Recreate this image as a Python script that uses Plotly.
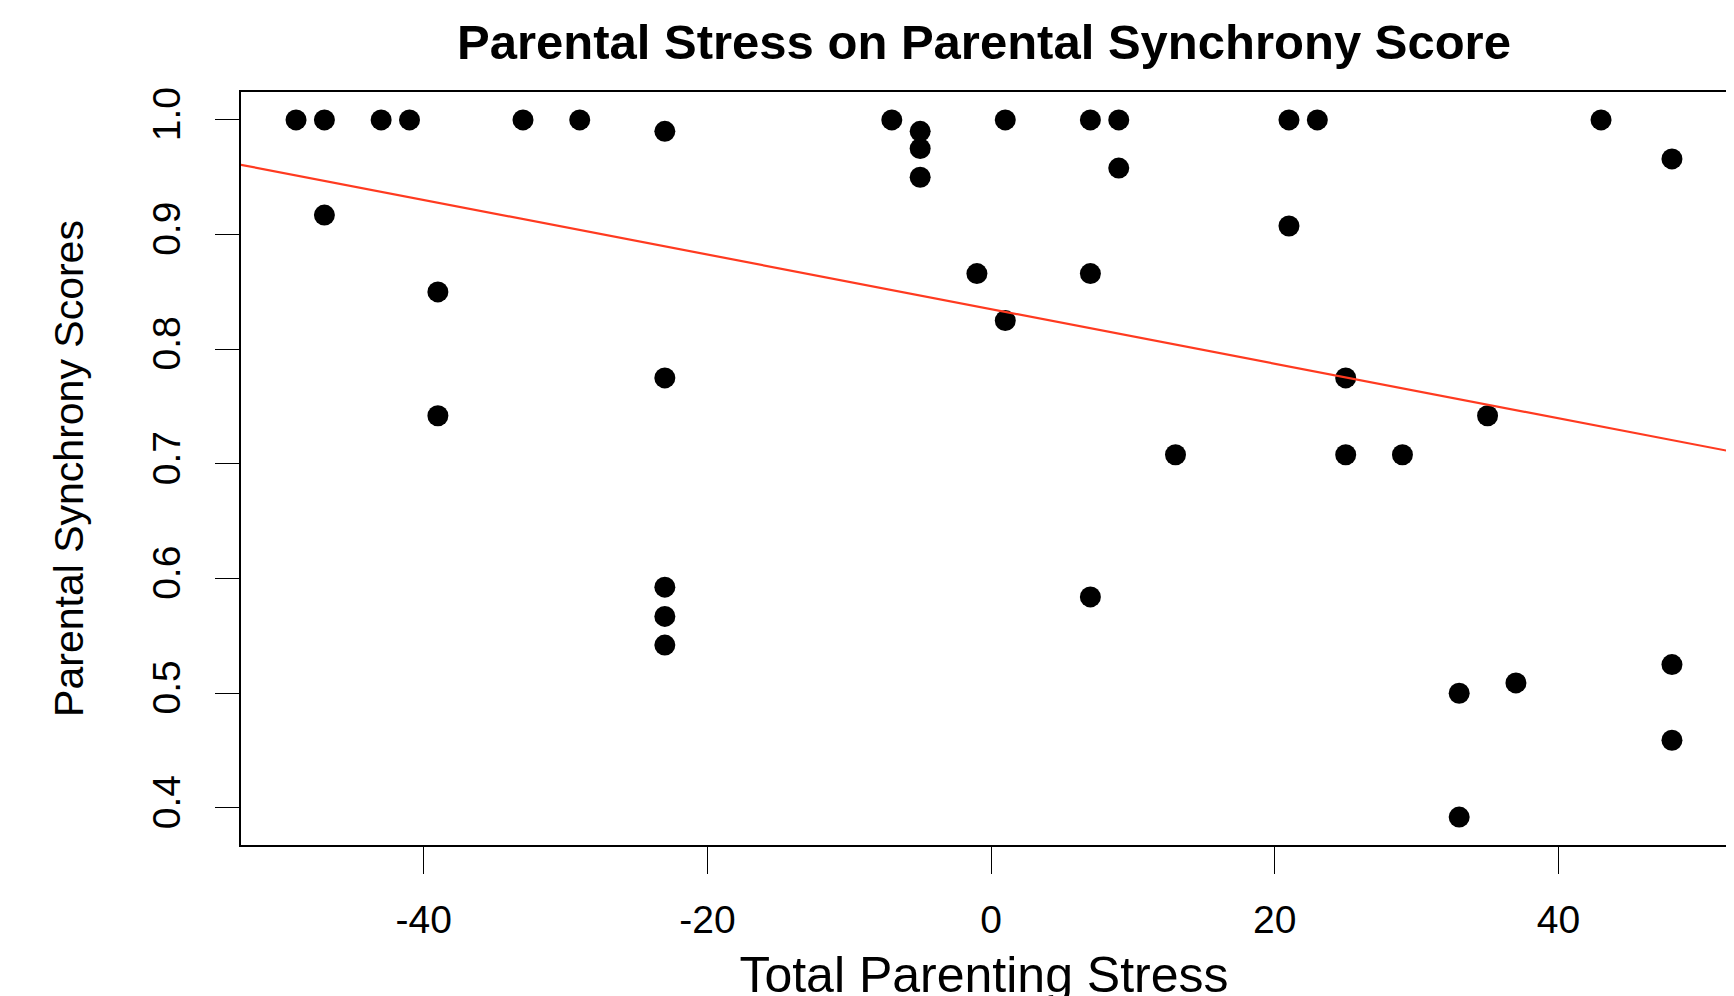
import numpy as np
import plotly.graph_objects as go

# Total Parenting Stress (x) and Parental Synchrony Scores (y)
stress = [-49, -47, -43, -41, -33, -29, -7, 1, 7, 9, 21, 23, 43,
          -47, -23, -39, -39, -23, -23, -23, -23,
          -5, -5, -5, -1, 1, 7, 7, 9,
          13, 21, 25, 25, 29, 35, 33, 33, 37, 48, 48, 48]
synchrony = [1.0, 1.0, 1.0, 1.0, 1.0, 1.0, 1.0, 1.0, 1.0, 1.0, 1.0, 1.0, 1.0,
             0.917, 0.990, 0.850, 0.742, 0.775, 0.5925, 0.567, 0.542,
             0.990, 0.975, 0.950, 0.866, 0.825, 0.866, 0.584, 0.958,
             0.708, 0.9075, 0.775, 0.708, 0.708, 0.742, 0.500, 0.392, 0.509, 0.966, 0.525, 0.459]

# fitted regression line
fit_intercept = 0.835
fit_slope = -0.00238

x_ticks = [-40, -20, 0, 20, 40]
y_ticks = [0.4, 0.5, 0.6, 0.7, 0.8, 0.9, 1.0]

# R-style 4% padding of data range
xmin, xmax = min(stress), max(stress)
ymin, ymax = min(synchrony), max(synchrony)
xpad = 0.04 * (xmax - xmin)
ypad = 0.04 * (ymax - ymin)
xr = [xmin - xpad, xmax + xpad]
yr = [ymin - ypad, ymax + ypad]

FONT = "Liberation Sans, Arial, Helvetica, sans-serif"

fig = go.Figure()
fig.add_trace(go.Scatter(
    x=stress, y=synchrony, mode="markers",
    marker=dict(color="black", size=21, line=dict(width=0)),
    showlegend=False, hoverinfo="x+y"))

line_x = np.array([xr[0] - 5, xr[1] + 5])
fig.add_trace(go.Scatter(
    x=line_x, y=fit_intercept + fit_slope * line_x, mode="lines",
    line=dict(color="#FF3A20", width=2.2), showlegend=False, hoverinfo="skip"))

fig.update_layout(
    width=1734, height=996,
    margin=dict(l=233, r=15, t=84, b=159, autoexpand=False),
    paper_bgcolor="white", plot_bgcolor="white",
    font=dict(family=FONT, color="black"),
    title=dict(text="<b>Parental Stress on Parental Synchrony Score</b>",
               x=0.5, xref="paper", xanchor="center",
               y=1 - 34 / 996, yref="container", yanchor="middle",
               font=dict(size=49, family=FONT, color="black")),
)

fig.update_xaxes(
    range=xr, tickvals=x_ticks, ticktext=[str(v) for v in x_ticks],
    showgrid=False, zeroline=False, automargin=False,
    showline=True, linecolor="black", linewidth=1.6, mirror=True,
    ticks="outside", ticklen=27, tickwidth=1.4, tickcolor="black",
    tickfont=dict(size=39, family=FONT), ticklabelstandoff=12,
    title=dict(text="Total Parenting Stress", font=dict(size=50, family=FONT), standoff=17),
)
fig.update_yaxes(
    range=yr, tickvals=y_ticks, ticktext=[f"{v:.1f}" for v in y_ticks],
    showgrid=False, zeroline=False, automargin=False,
    showline=True, linecolor="black", linewidth=1.6, mirror=True,
    ticks="outside", ticklen=24, tickwidth=1.4, tickcolor="black",
    tickfont=dict(size=39, family=FONT), tickangle=-90, ticklabelstandoff=20,
    title=dict(text="Parental Synchrony Scores", font=dict(size=41, family=FONT), standoff=48),
)

fig.write_html("out.html")
